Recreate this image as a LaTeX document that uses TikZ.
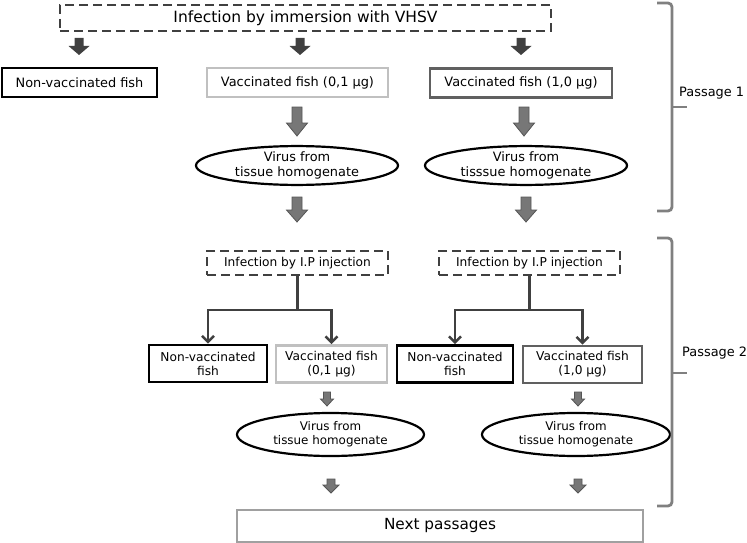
\documentclass[tikz,border=0pt]{standalone}
\usepackage{fontspec}
\setmainfont{DejaVu Sans}
\usetikzlibrary{shapes.geometric,arrows.meta}
\definecolor{dk}{HTML}{404040}
\definecolor{lg}{HTML}{C0C0C0}
\definecolor{mg}{HTML}{606060}
\definecolor{ag}{HTML}{777777}
\definecolor{agd}{HTML}{555555}
\definecolor{br}{HTML}{808080}
\definecolor{nx}{HTML}{A0A0A0}
\newcommand{\blockarrow}[7]{%
  \draw[#1] (#2-#6,#3) -- (#2+#6,#3) -- (#2+#6,#4) -- (#2+#7,#4) -- (#2,#5)
    -- (#2-#7,#4) -- (#2-#6,#4) -- cycle;}
\begin{document}
\begin{tikzpicture}[x=1pt,y=-1pt,
  every node/.style={inner sep=0pt, align=center, font=\fontsize{12.9}{15}\selectfont},
  box/.style={draw, line width=2.6pt, minimum height=29pt},
  nvbox/.style={box, draw=black},
  lgbox/.style={box, draw=lg},
  mgbox/.style={box, draw=mg},
  dbox/.style={draw=dk, line width=2.6pt, dash pattern=on 9pt off 5pt},
  ell/.style={ellipse, draw=black, line width=2.2pt},
  tree/.style={draw=dk, line width=2.6pt, -{Straight Barb[length=6pt,width=12pt]}},
  darrow/.style={fill=dk, draw=none},
  garrow/.style={fill=ag, draw=agd, line width=0.8pt},
  brace/.style={draw=br, line width=2.8pt, rounded corners=4pt},
  ptext/.style={anchor=west, font=\fontsize{12.9}{15}\selectfont},
  small/.style={font=\fontsize{12.2}{14}\selectfont}
]
\useasboundingbox (0,0) rectangle (747,543);

% Passage 1
\node[dbox, minimum width=491pt, minimum height=26pt, font=\fontsize{15.5}{18}\selectfont] (top) at (305.5,18) {Infection by immersion with VHSV};
\node[nvbox, minimum width=155pt] (nv1) at (79.5,82.5) {Non-vaccinated fish};
\node[lgbox, minimum width=181pt] (v01) at (297.5,82.5) {Vaccinated fish (0,1 µg)};
\node[mgbox, minimum width=182pt] (v10) at (521,83) {Vaccinated fish (1,0 µg)};
\node[ell, minimum width=202pt, minimum height=35pt] (e1) at (297,165.5) {Virus from\\tissue homogenate};
\node[ell, minimum width=202pt, minimum height=35pt] (e2) at (526,165.5) {Virus from\\tisssue homogenate};

\blockarrow{darrow}{79}{38}{46}{55}{4.5}{10.5}
\blockarrow{darrow}{300}{38}{46}{55}{4.5}{10.5}
\blockarrow{darrow}{521}{38}{46}{55}{4.5}{10.5}
\blockarrow{garrow}{297}{107}{123}{136}{5}{10.5}
\blockarrow{garrow}{524}{107}{123}{136}{5}{10.5}
\blockarrow{garrow}{297}{197}{210}{222}{5}{10.5}
\blockarrow{garrow}{526}{197}{210}{222}{5}{10.5}

% Passage 2
\node[dbox, small, minimum width=181pt, minimum height=24pt] (ip1) at (297.5,263) {Infection by I.P injection};
\node[dbox, small, minimum width=181pt, minimum height=24pt] (ip2) at (529.5,263) {Infection by I.P injection};
\node[nvbox, small, minimum width=118pt, minimum height=37pt] (nv2a) at (208,363.5) {Non-vaccinated\\fish};
\node[lgbox, small, minimum width=111pt, minimum height=37pt] (v01b) at (331.5,364) {Vaccinated fish\\(0,1 µg)};
\node[nvbox, small, minimum width=116pt, minimum height=37pt] (nv2b) at (455,364) {Non-vaccinated\\fish};
\node[mgbox, small, minimum width=119pt, minimum height=37pt] (v10b) at (582.5,364.5) {Vaccinated fish\\(1,0 µg)};
\node[ell, minimum width=187pt, minimum height=43pt, font=\fontsize{11.9}{14}\selectfont] (e3) at (330.5,434.5) {Virus from\\tissue homogenate};
\node[ell, minimum width=188pt, minimum height=43pt, font=\fontsize{11.9}{14}\selectfont] (e4) at (576,434.5) {Virus from\\tissue homogenate};

\coordinate (j1) at (297.5,310);
\coordinate (j2) at (529.5,310);
\draw[draw=dk, line width=2.6pt] (ip1.south) -- (j1);
\draw[draw=dk, line width=2.6pt] (ip2.south) -- (j2);
\draw[tree] (j1) -| (nv2a.north);
\draw[tree] (j1) -| (v01b.north);
\draw[tree] (j2) -| (nv2b.north);
\draw[tree] (j2) -| (v10b.north);

\blockarrow{garrow}{327}{392}{399}{406}{3.5}{6.5}
\blockarrow{garrow}{578}{392}{399}{406}{3.5}{6.5}
\blockarrow{garrow}{331}{479}{485}{493}{4}{8}
\blockarrow{garrow}{578}{479}{485}{493}{4}{8}

\node[draw=nx, line width=1.2pt, minimum width=406pt, minimum height=32pt, font=\fontsize{15.3}{17}\selectfont] (next) at (440,526) {Next passages};

% braces
\draw[brace] (657,3) -- (672,3) -- (672,107) -- (672,211) -- (657,211);
\draw[draw=br, line width=2.8pt] (671,107) -- (687,107);
\node[ptext] (p1) at (679,93) {Passage 1};
\draw[brace] (657,238) -- (672,238) -- (672,373) -- (672,506) -- (657,506);
\draw[draw=br, line width=2.8pt] (671,373) -- (687,373);
\node[ptext] (p2) at (682,353) {Passage 2};
\end{tikzpicture}
\end{document}
